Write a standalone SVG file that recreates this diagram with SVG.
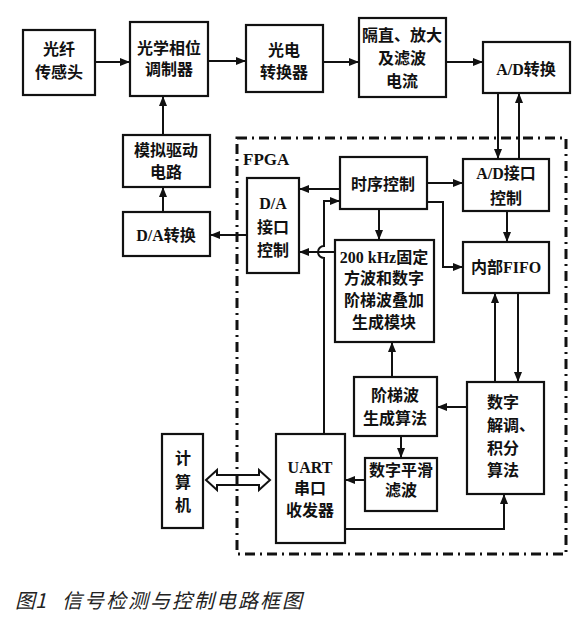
<svg xmlns="http://www.w3.org/2000/svg" width="587" height="624" viewBox="0 0 587 624">
<style>
.box{fill:#fff;stroke:#111;stroke-width:2.2}
.t{font-family:"Liberation Serif","Noto Sans CJK SC",serif;font-size:16px;font-weight:bold;fill:#111;text-anchor:middle}
.ln{fill:none;stroke:#111;stroke-width:2}
.cap{font-family:"Noto Sans CJK SC",sans-serif;font-size:20px;font-style:italic;fill:#222}
</style>
<defs>
<marker id="ah" markerUnits="userSpaceOnUse" markerWidth="10" markerHeight="8" refX="10" refY="4" orient="auto">
<path d="M0,0 L10,4 L0,8 z" fill="#111"/>
</marker>
</defs>
<rect width="587" height="624" fill="#fff"/>

<g id="fpga">
<rect x="237" y="138" width="329" height="416" fill="none" stroke="#111" stroke-width="3" stroke-dasharray="10,5,2,5"/>
<text x="243" y="165" style="font-family:'Liberation Serif',serif;font-size:17px;font-weight:bold;fill:#111">FPGA</text>
</g>

<g id="n_fiber"><rect class="box" x="23" y="30" width="72" height="65"/>
<text class="t" x="59" y="55">光纤</text><text class="t" x="59" y="78">传感头</text></g>
<g id="n_mod"><rect class="box" x="130" y="22" width="78" height="74"/>
<text class="t" x="169" y="54">光学相位</text><text class="t" x="169" y="75">调制器</text></g>
<g id="n_pd"><rect class="box" x="246" y="25" width="77" height="67"/>
<text class="t" x="284" y="56">光电</text><text class="t" x="284" y="78">转换器</text></g>
<g id="n_amp"><rect class="box" x="359" y="18" width="87" height="79"/>
<text class="t" x="402" y="41">隔直、放大</text><text class="t" x="402" y="64">及滤波</text><text class="t" x="402" y="87">电流</text></g>
<g id="n_adc"><rect class="box" x="483" y="42" width="87" height="51"/>
<text class="t" x="526" y="75">A/D转换</text></g>
<g id="n_drv"><rect class="box" x="123" y="135" width="87" height="52"/>
<text class="t" x="166" y="156">模拟驱动</text><text class="t" x="166" y="178">电路</text></g>
<g id="n_dac"><rect class="box" x="123" y="212" width="87" height="44"/>
<text class="t" x="166" y="241">D/A转换</text></g>
<g id="n_daif"><rect class="box" x="247" y="178" width="52" height="95"/>
<text class="t" x="273" y="209">D/A</text><text class="t" x="273" y="233">接口</text><text class="t" x="273" y="256">控制</text></g>
<g id="n_timing"><rect class="box" x="340" y="157" width="87" height="52"/>
<text class="t" x="383" y="190">时序控制</text></g>
<g id="n_adif"><rect class="box" x="463" y="159" width="86" height="52"/>
<text class="t" x="506" y="179">A/D接口</text><text class="t" x="506" y="204">控制</text></g>
<g id="n_fifo"><rect class="box" x="463" y="242" width="86" height="51"/>
<text class="t" x="506" y="273">内部FIFO</text></g>
<g id="n_gen"><rect class="box" x="335" y="240" width="99" height="102"/>
<text class="t" x="384" y="263">200 kHz固定</text><text class="t" x="384" y="284">方波和数字</text><text class="t" x="384" y="306">阶梯波叠加</text><text class="t" x="384" y="328">生成模块</text></g>
<g id="n_step"><rect class="box" x="354" y="377" width="83" height="59"/>
<text class="t" x="395" y="401">阶梯波</text><text class="t" x="395" y="424">生成算法</text></g>
<g id="n_smooth"><rect class="box" x="365" y="458" width="72" height="53"/>
<text class="t" x="401" y="476">数字平滑</text><text class="t" x="401" y="496">滤波</text></g>
<g id="n_demod"><rect class="box" x="467" y="382" width="77" height="112"/>
<text class="t" x="487" y="408" style="text-anchor:start">数字</text><text class="t" x="487" y="431" style="text-anchor:start">解调、</text><text class="t" x="487" y="454" style="text-anchor:start">积分</text><text class="t" x="487" y="476" style="text-anchor:start">算法</text></g>
<g id="n_uart"><rect class="box" x="276" y="434" width="69" height="109"/>
<text class="t" x="310" y="473">UART</text><text class="t" x="310" y="494">串口</text><text class="t" x="310" y="516">收发器</text></g>
<g id="n_pc"><rect class="box" x="162" y="434" width="41" height="94"/>
<text class="t" x="183" y="464">计</text><text class="t" x="183" y="488">算</text><text class="t" x="183" y="511">机</text></g>

<g id="connectors">
<path class="ln" marker-end="url(#ah)" d="M95,62 H130"/>
<path class="ln" marker-end="url(#ah)" d="M208,61 H246"/>
<path class="ln" marker-end="url(#ah)" d="M323,62 H359"/>
<path class="ln" marker-end="url(#ah)" d="M446,62 H483"/>
<path class="ln" marker-end="url(#ah)" d="M163,135 V96"/>
<path class="ln" marker-end="url(#ah)" d="M163,212 V187"/>
<path class="ln" marker-end="url(#ah)" d="M247,235 H210"/>
<path class="ln" marker-end="url(#ah)" d="M498,93 V159"/>
<path class="ln" marker-end="url(#ah)" d="M519,159 V93"/>
<path class="ln" marker-end="url(#ah)" d="M340,189 H299"/>
<path class="ln" marker-end="url(#ah)" d="M427,183 H463"/>
<path class="ln" marker-end="url(#ah)" d="M379,209 V240"/>
<path class="ln" marker-end="url(#ah)" d="M427,202 H443 V267 H463"/>
<path class="ln" marker-end="url(#ah)" d="M507,211 V242"/>
<path class="ln" marker-end="url(#ah)" d="M335,252 H299"/>
<path class="ln" marker-end="url(#ah)" d="M324,434 V258 A6,6 0 0 1 324,246 V201 H340"/>
<path class="ln" marker-end="url(#ah)" d="M392,377 V342"/>
<path class="ln" marker-end="url(#ah)" d="M467,407 H437"/>
<path class="ln" marker-end="url(#ah)" d="M401,436 V458"/>
<path class="ln" marker-end="url(#ah)" d="M365,480 H345"/>
<path class="ln" marker-end="url(#ah)" d="M345,529 H504 V494"/>
<path class="ln" marker-end="url(#ah)" d="M495,382 V293"/>
<path class="ln" marker-end="url(#ah)" d="M518,293 V382"/>
<polygon fill="none" stroke="#111" stroke-width="2" points="206,480 217,470 217,475 259,475 259,470 270,480 259,490 259,485 217,485 217,490"/>
</g>

<text class="cap" x="15" y="608">图1</text>
<text class="cap" x="62" y="608" style="letter-spacing:2px">信号检测与控制电路框图</text>
</svg>
